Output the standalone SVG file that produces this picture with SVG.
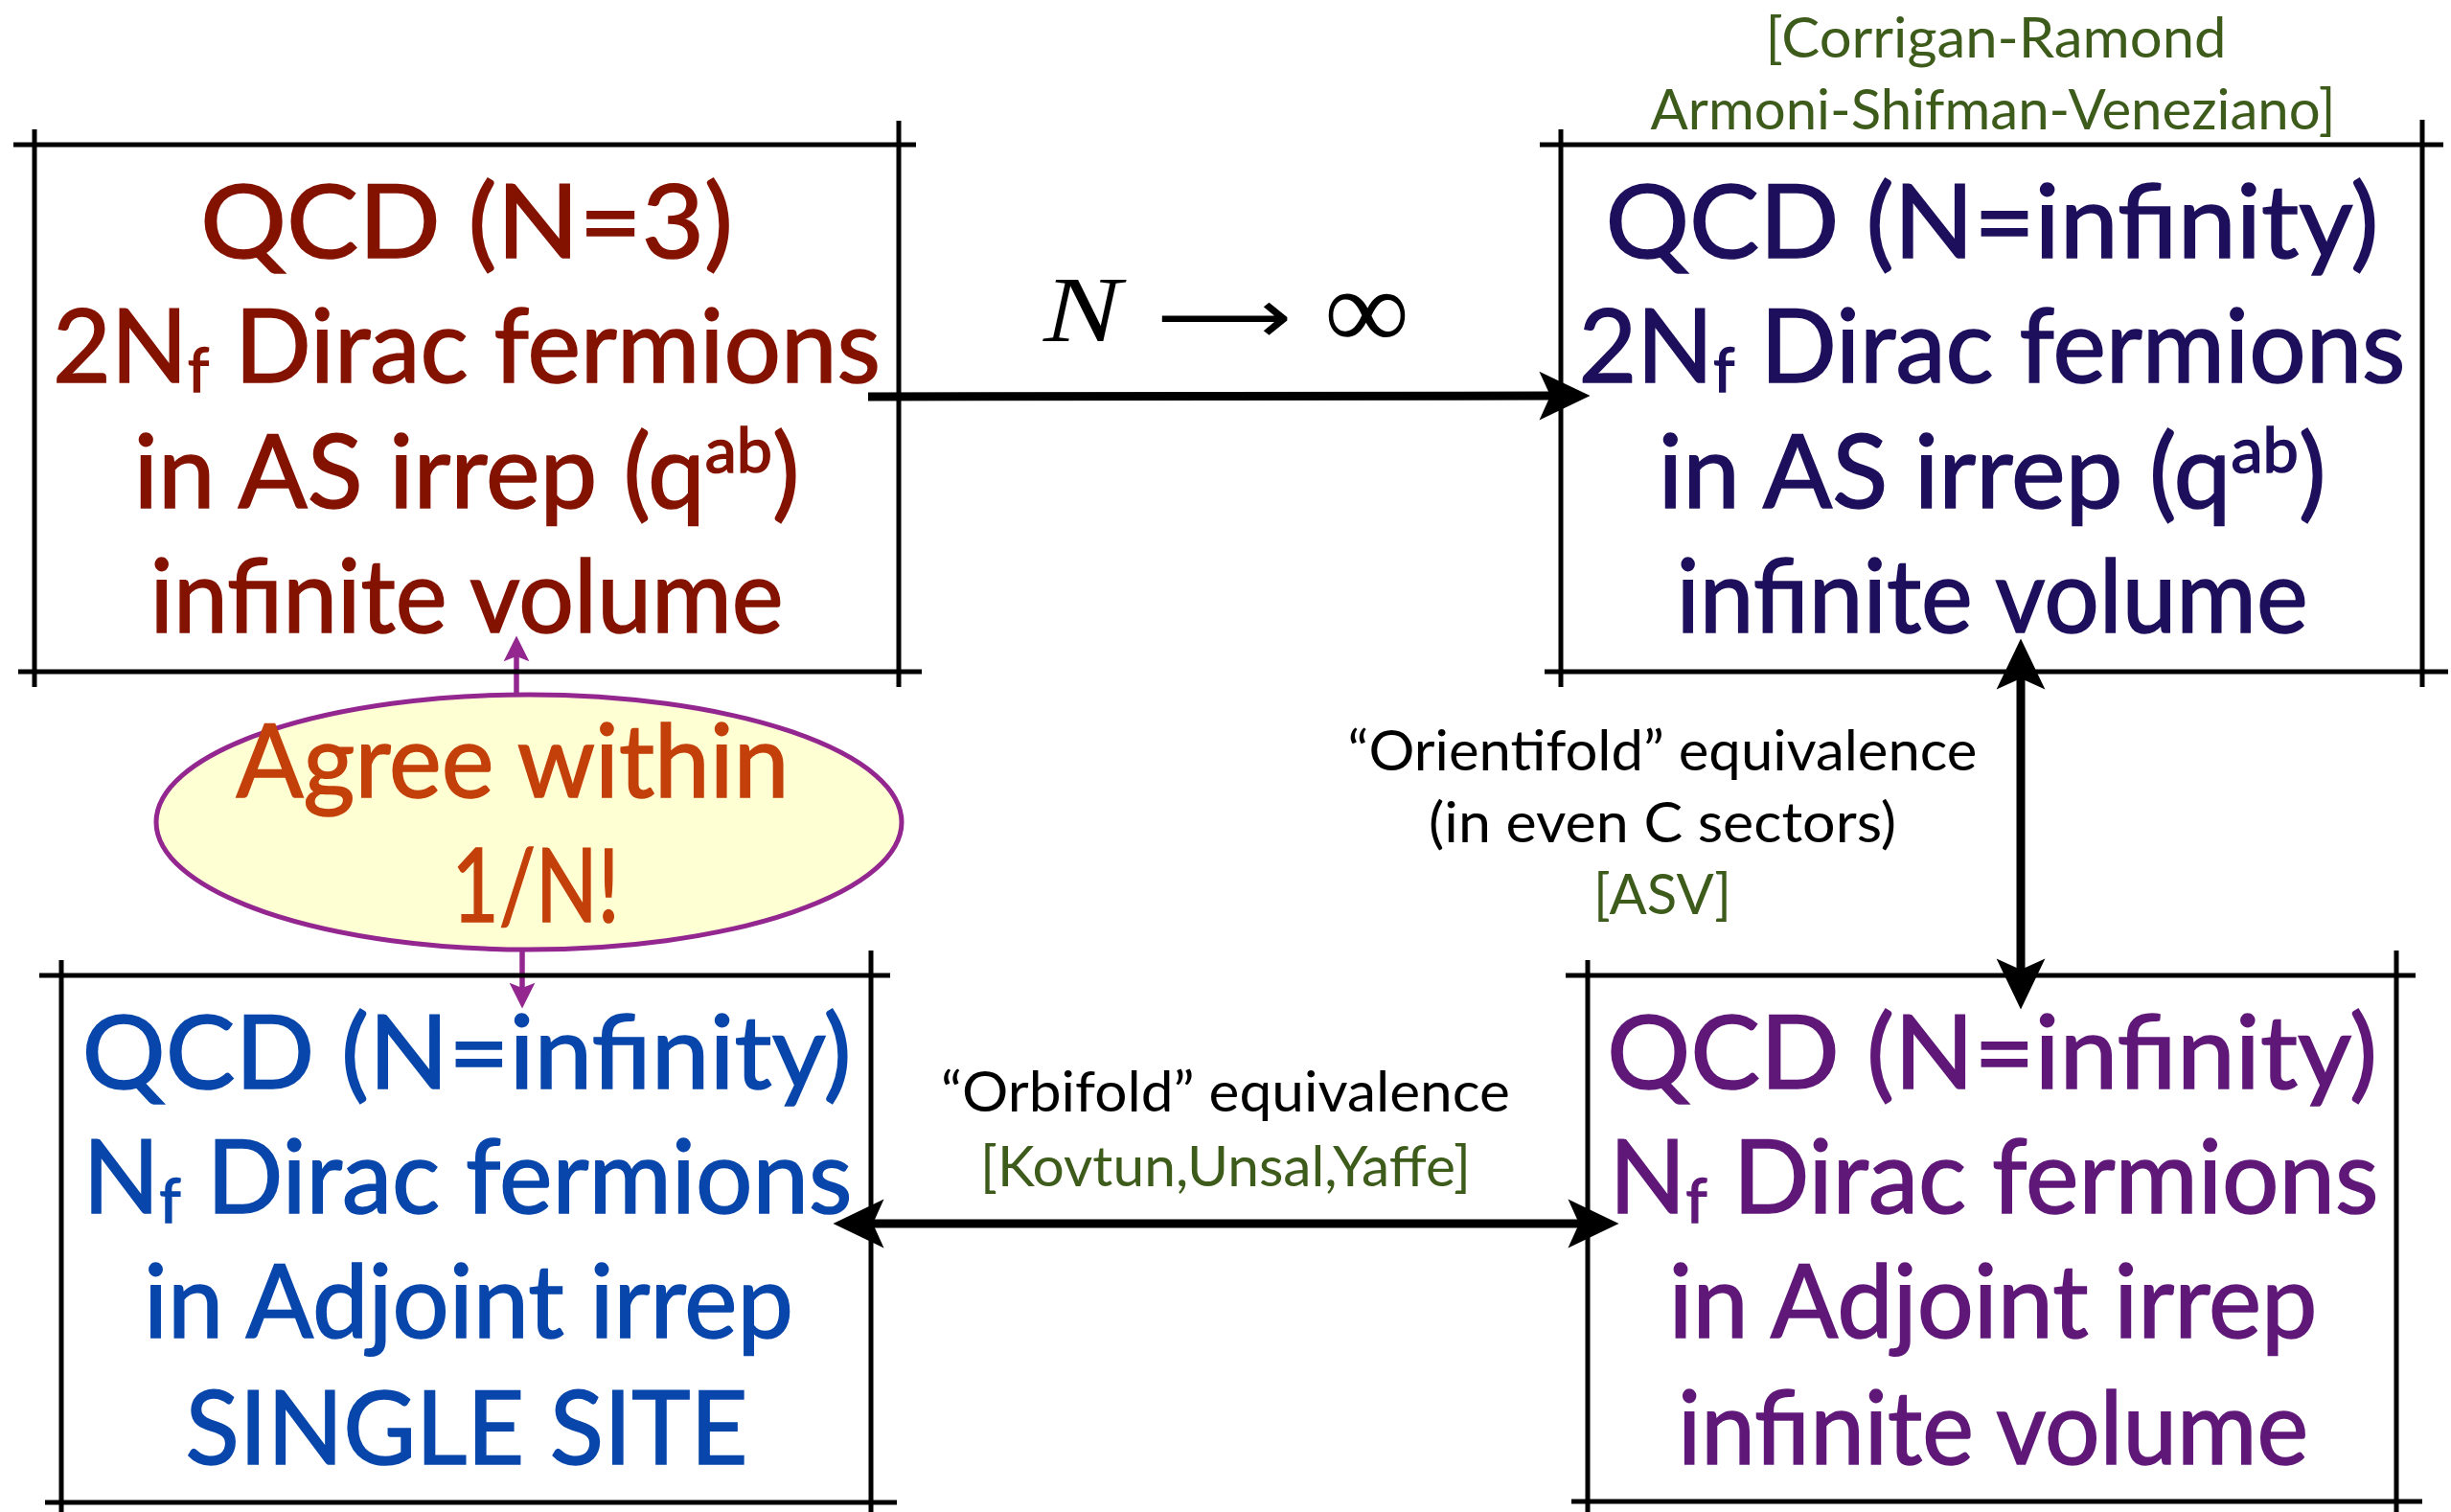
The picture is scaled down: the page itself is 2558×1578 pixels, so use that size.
<svg xmlns="http://www.w3.org/2000/svg" width="2558" height="1578" viewBox="0 0 2558 1578">
<style>
.frame{stroke:#000;stroke-width:5;fill:none}
.big{font-family:Lato,"Open Sans","Liberation Sans",sans-serif;font-size:106px;text-anchor:middle;stroke-width:1.6px}
.lbl{font-family:Lato,"Open Sans","Liberation Sans",sans-serif;font-size:58px;text-anchor:middle;fill:#000}
.cite{fill:#3d5b1b}
.red{fill:#841200;stroke:#841200}
.navy{fill:#1e0f5c;stroke:#1e0f5c}
.blue{fill:#0846ab;stroke:#0846ab}
.purple{fill:#5f1878;stroke:#5f1878}
.orange{fill:#c3400a;stroke:#c3400a}
.conn{stroke:#000;stroke-width:9;fill:none}
.pconn{stroke:#93278f;stroke-width:5.5;fill:none}
</style>
<defs>
<marker id="ah" markerUnits="userSpaceOnUse" markerWidth="60" markerHeight="60" viewBox="-2 -25 52 50" refX="10" refY="0" orient="auto-start-reverse">
<path d="M0,-22 L46,0 L0,22 L10,0 Z" fill="#000"/>
</marker>
<marker id="ph" markerUnits="userSpaceOnUse" markerWidth="30" markerHeight="30" viewBox="-1 -14 28 28" refX="5" refY="0" orient="auto-start-reverse">
<path d="M0,-12.5 L25,0 L0,12.5 L5,0 Z" fill="#93278f"/>
</marker>
</defs>

<g id="connectors">
<line class="conn" x1="906" y1="414" x2="1618" y2="413" marker-end="url(#ah)"/>
<line class="conn" x1="2109" y1="708" x2="2109" y2="1012" marker-start="url(#ah)" marker-end="url(#ah)"/>
<line class="conn" x1="911" y1="1277" x2="1648" y2="1277" marker-start="url(#ah)" marker-end="url(#ah)"/>
<line class="pconn" x1="539" y1="726" x2="539" y2="685" marker-end="url(#ph)"/>
<line class="pconn" x1="545" y1="991" x2="545" y2="1031" marker-end="url(#ph)"/>
</g>

<g id="node-tl">
<line class="frame" x1="14" y1="151" x2="956" y2="151"/>
<line class="frame" x1="19" y1="701" x2="962" y2="701"/>
<line class="frame" x1="36" y1="135" x2="36" y2="717"/>
<line class="frame" x1="938" y1="126" x2="938" y2="717"/>
<text class="big red" x="487" y="269" textLength="556" lengthAdjust="spacingAndGlyphs">QCD (N=3)</text>
<text class="big red" x="487" y="399" textLength="864" lengthAdjust="spacingAndGlyphs">2N<tspan font-size="64" dy="10">f</tspan><tspan dy="-10"> Dirac fermions</tspan></text>
<text class="big red" x="487" y="530" textLength="695" lengthAdjust="spacingAndGlyphs">in AS irrep (q<tspan font-size="66" dy="-37">ab</tspan><tspan dy="37">)</tspan></text>
<text class="big red" x="487" y="660" textLength="661" lengthAdjust="spacingAndGlyphs">infinite volume</text>
</g>

<g id="node-tr">
<line class="frame" x1="1607" y1="151" x2="2550" y2="151"/>
<line class="frame" x1="1612" y1="701" x2="2555" y2="701"/>
<line class="frame" x1="1629" y1="135" x2="1629" y2="717"/>
<line class="frame" x1="2528" y1="125" x2="2528" y2="717"/>
<text class="big navy" x="2079" y="269" textLength="807" lengthAdjust="spacingAndGlyphs">QCD (N=infinity)</text>
<text class="big navy" x="2079" y="399" textLength="863" lengthAdjust="spacingAndGlyphs">2N<tspan font-size="64" dy="10">f</tspan><tspan dy="-10"> Dirac fermions</tspan></text>
<text class="big navy" x="2079" y="530" textLength="697" lengthAdjust="spacingAndGlyphs">in AS irrep (q<tspan font-size="66" dy="-37">ab</tspan><tspan dy="37">)</tspan></text>
<text class="big navy" x="2079" y="660" textLength="659" lengthAdjust="spacingAndGlyphs">infinite volume</text>
</g>

<g id="node-bl">
<line class="frame" x1="41" y1="1018" x2="929" y2="1018"/>
<line class="frame" x1="47" y1="1568" x2="936" y2="1568"/>
<line class="frame" x1="64" y1="1002" x2="64" y2="1578"/>
<line class="frame" x1="909" y1="992" x2="909" y2="1578"/>
<text class="big blue" x="487" y="1136" textLength="803" lengthAdjust="spacingAndGlyphs">QCD (N=infinity)</text>
<text class="big blue" x="488" y="1266" textLength="803" lengthAdjust="spacingAndGlyphs">N<tspan font-size="64" dy="10">f</tspan><tspan dy="-10"> Dirac fermions</tspan></text>
<text class="big blue" x="489" y="1396" textLength="678" lengthAdjust="spacingAndGlyphs">in Adjoint irrep</text>
<text class="big blue" x="487" y="1528" textLength="587" lengthAdjust="spacingAndGlyphs">SINGLE SITE</text>
</g>

<g id="node-br">
<line class="frame" x1="1634" y1="1018" x2="2521" y2="1018"/>
<line class="frame" x1="1640" y1="1567" x2="2528" y2="1567"/>
<line class="frame" x1="1657" y1="1002" x2="1657" y2="1578"/>
<line class="frame" x1="2501" y1="992" x2="2501" y2="1578"/>
<text class="big purple" x="2079" y="1136" textLength="804" lengthAdjust="spacingAndGlyphs">QCD (N=infinity)</text>
<text class="big purple" x="2081" y="1266" textLength="803" lengthAdjust="spacingAndGlyphs">N<tspan font-size="64" dy="10">f</tspan><tspan dy="-10"> Dirac fermions</tspan></text>
<text class="big purple" x="2080" y="1396" textLength="677" lengthAdjust="spacingAndGlyphs">in Adjoint irrep</text>
<text class="big purple" x="2080" y="1528" textLength="658" lengthAdjust="spacingAndGlyphs">infinite volume</text>
</g>

<g id="node-agree">
<ellipse cx="552" cy="858" rx="389" ry="133" fill="#ffffd4" stroke="#93278f" stroke-width="5"/>
<text class="big orange" x="535" y="832" textLength="577" lengthAdjust="spacingAndGlyphs">Agree within</text>
<text class="big orange" x="559" y="962" textLength="175" lengthAdjust="spacingAndGlyphs">1/N!</text>
</g>

<g id="label-limit">
<text x="1089" y="356" font-family="'Liberation Serif','DejaVu Serif',serif" font-style="italic" font-size="98" textLength="81" lengthAdjust="spacingAndGlyphs">N</text>
<text x="1207" y="358" font-family="'DejaVu Sans',sans-serif" font-size="80" textLength="141" lengthAdjust="spacingAndGlyphs">⟶</text>
<text x="1382" y="364" font-family="'Liberation Serif','DejaVu Serif',serif" font-size="120" textLength="89" lengthAdjust="spacingAndGlyphs">∞</text>
</g>

<g id="label-cite-tr">
<text class="lbl cite" x="2083" y="60" font-size="57" textLength="481" lengthAdjust="spacingAndGlyphs">[Corrigan-Ramond</text>
<text class="lbl cite" x="2080" y="135" font-size="57" textLength="715" lengthAdjust="spacingAndGlyphs">Armoni-Shifman-Veneziano]</text>
</g>

<g id="label-orientifold">
<text class="lbl" x="1735" y="804" textLength="657" lengthAdjust="spacingAndGlyphs">“Orientifold” equivalence</text>
<text class="lbl" x="1735" y="879" textLength="488" lengthAdjust="spacingAndGlyphs">(in even C sectors)</text>
<text class="lbl cite" x="1735" y="954" textLength="144" lengthAdjust="spacingAndGlyphs">[ASV]</text>
</g>

<g id="label-orbifold">
<text class="lbl" x="1279" y="1160" font-size="57" textLength="594" lengthAdjust="spacingAndGlyphs">“Orbifold” equivalence</text>
<text class="lbl cite" x="1279" y="1238" font-size="57" textLength="512" lengthAdjust="spacingAndGlyphs">[Kovtun,Unsal,Yaffe]</text>
</g>
</svg>
